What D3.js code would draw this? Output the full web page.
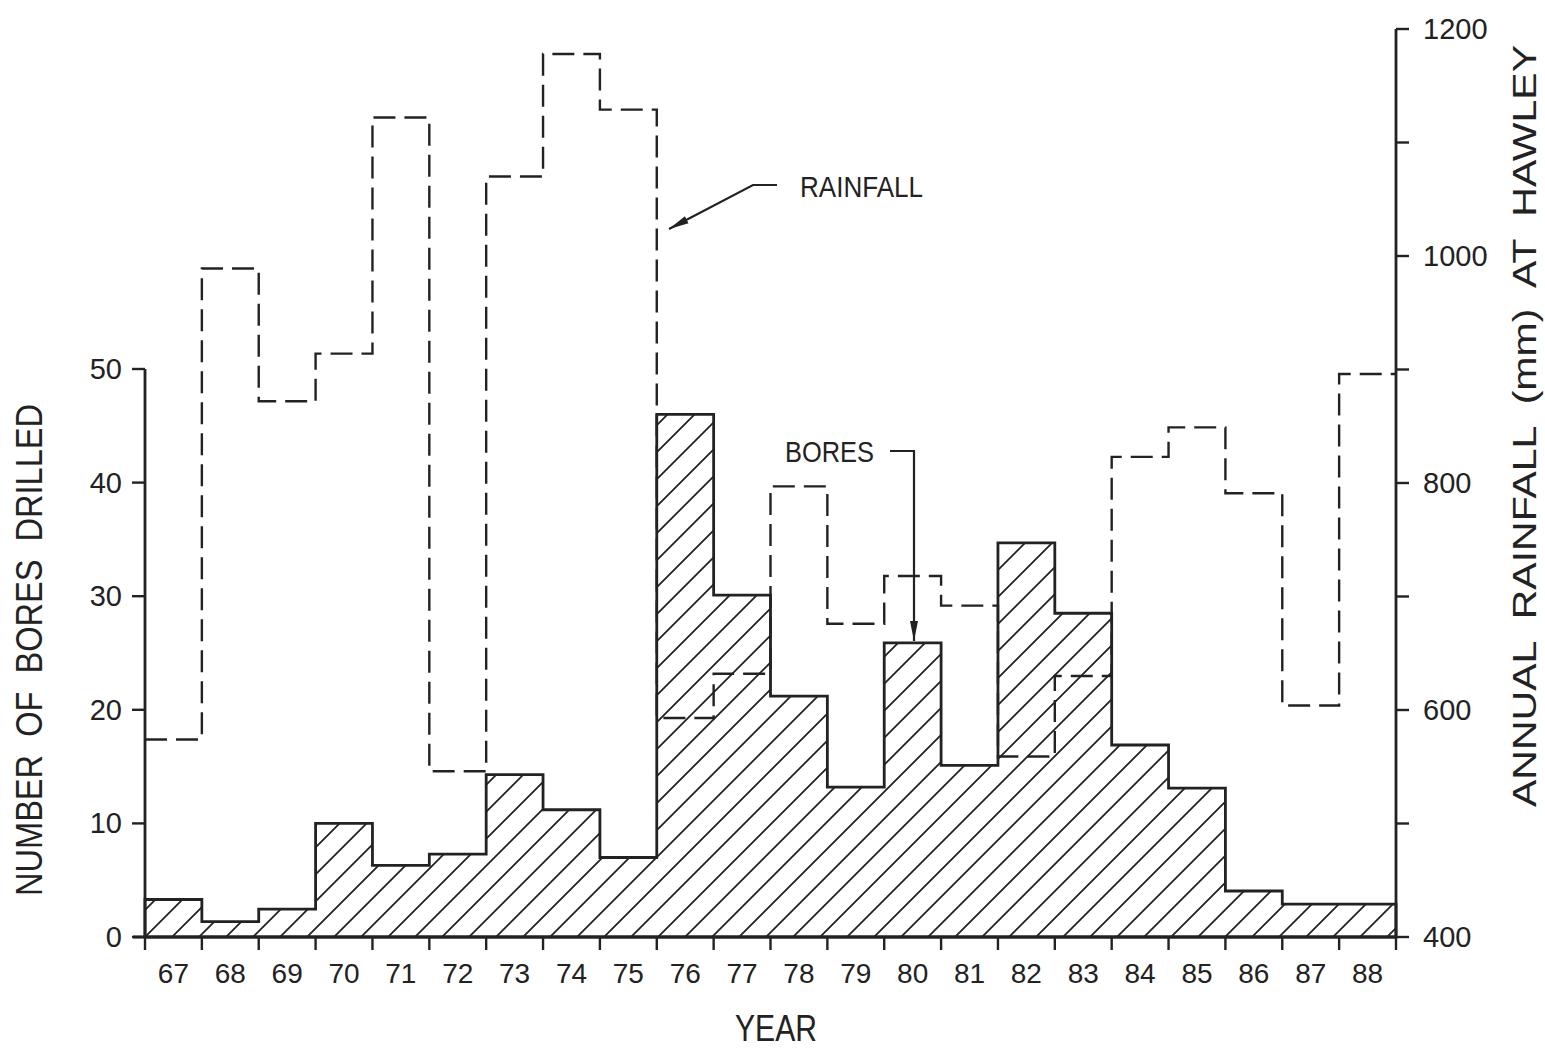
<!DOCTYPE html>
<html>
<head>
<meta charset="utf-8">
<script src="https://cdn.jsdelivr.net/npm/d3@7"></script>
<style>
  html, body { margin: 0; padding: 0; background: #fff; }
  svg { display: block; }
  text { font-family: "Liberation Sans", Arial, sans-serif; fill: #222; }
  .pre { white-space: pre; }
</style>
</head>
<body>
<svg id="chart" width="1545" height="1049"></svg>
<script>
// ---- data ----
const years = ["67","68","69","70","71","72","73","74","75","76","77","78","79","80","81","82","83","84","85","86","87","88"];
const bores = [3.3, 1.35, 2.45, 10.0, 6.3, 7.3, 14.3, 11.2, 7.0, 46.0, 30.1, 21.2, 13.2, 25.9, 15.1, 34.7, 28.5, 16.9, 13.1, 4.05, 2.9, 2.9];
const rainfall = [574, 989, 872, 914, 1122, 546, 1070, 1178, 1129, 593, 632, 797, 676, 718, 692, 559, 630, 823, 849, 791, 604, 896];
const leftTicks = [0, 10, 20, 30, 40, 50];
const rightTicks = [400, 500, 600, 700, 800, 900, 1000, 1100, 1200];
const rightTickLabels = [400, 600, 800, 1000, 1200];

const svg = d3.select("#chart");
const INK = "#222";

const x = d3.scaleBand().domain(years).range([145, 1396]).padding(0);
const yL = d3.scaleLinear().domain([0, 50]).range([937, 369]);
const yR = d3.scaleLinear().domain([400, 1200]).range([937, 29]);

// hatch pattern
const defs = svg.append("defs");
const pat = defs.append("pattern")
  .attr("id", "hatch").attr("patternUnits", "userSpaceOnUse")
  .attr("x", 145).attr("y", 937).attr("width", 27).attr("height", 27);
pat.append("path")
  .attr("d", "M0,27 L27,0 M-6,6 L6,-6 M21,33 L33,21")
  .attr("stroke", INK).attr("stroke-width", 1.8);

defs.append("marker").attr("id", "arrow")
  .attr("viewBox", "0 0 20 10").attr("refX", 20).attr("refY", 5)
  .attr("markerWidth", 20).attr("markerHeight", 10)
  .attr("markerUnits", "userSpaceOnUse").attr("orient", "auto")
  .append("path").attr("d", "M0,1 L20,5 L0,9 Z").attr("fill", INK);

// step path
function stepPts(vals, yScale) {
  const pts = [];
  vals.forEach((v, i) => {
    const x0 = x(years[i]), x1 = x0 + x.bandwidth();
    pts.push([x0, yScale(v)], [x1, yScale(v)]);
  });
  return pts;
}
const bPts = stepPts(bores, yL);
const area = [[x(years[0]), yL(0)], ...bPts, [x(years[years.length-1]) + x.bandwidth(), yL(0)]];
svg.append("path")
  .attr("d", d3.line()(area) + "Z")
  .attr("fill", "url(#hatch)")
  .attr("stroke", INK).attr("stroke-width", 2.8).attr("stroke-linejoin", "miter");

// rainfall dashed step
const rPts = stepPts(rainfall, yR);
svg.append("path")
  .attr("d", d3.line()(rPts))
  .attr("fill", "none").attr("stroke", INK).attr("stroke-width", 2.4)
  .attr("stroke-dasharray", "22,9");

// x axis
const gx = svg.append("g");
gx.append("line").attr("x1", 133).attr("x2", 1396).attr("y1", 937).attr("y2", 937)
  .attr("stroke", INK).attr("stroke-width", 2.8);
const bounds = years.map(d => x(d)).concat([1396]);
gx.selectAll(".xt").data(bounds).enter().append("line")
  .attr("x1", d => d).attr("x2", d => d).attr("y1", 937).attr("y2", 950)
  .attr("stroke", INK).attr("stroke-width", 2.4);
gx.selectAll(".xl").data(years).enter().append("text")
  .attr("x", d => x(d) + x.bandwidth() / 2).attr("y", 983)
  .attr("text-anchor", "middle").attr("font-size", 28).text(d => d);

// left axis
const gl = svg.append("g");
gl.append("line").attr("x1", 145).attr("x2", 145).attr("y1", yL(0)).attr("y2", yL(50))
  .attr("stroke", INK).attr("stroke-width", 2.8);
gl.selectAll(".lt").data(leftTicks).enter().append("line")
  .attr("x1", 132).attr("x2", 145).attr("y1", d => yL(d)).attr("y2", d => yL(d))
  .attr("stroke", INK).attr("stroke-width", 2.4);
gl.selectAll(".ll").data(leftTicks).enter().append("text")
  .attr("x", 122).attr("y", d => yL(d) + 10)
  .attr("text-anchor", "end").attr("font-size", 29).text(d => d);

// right axis
const gr = svg.append("g");
gr.append("line").attr("x1", 1396).attr("x2", 1396).attr("y1", yR(400)).attr("y2", yR(1200))
  .attr("stroke", INK).attr("stroke-width", 2.8);
gr.selectAll(".rt").data(rightTicks).enter().append("line")
  .attr("x1", 1396).attr("x2", 1409).attr("y1", d => yR(d)).attr("y2", d => yR(d))
  .attr("stroke", INK).attr("stroke-width", 2.4);
gr.selectAll(".rl").data(rightTickLabels).enter().append("text")
  .attr("x", 1423).attr("y", d => yR(d) + 10)
  .attr("text-anchor", "start").attr("font-size", 29).text(d => d);

// axis titles
svg.append("text").attr("class", "pre")
  .attr("transform", "translate(42,650) rotate(-90)")
  .attr("text-anchor", "middle").attr("font-size", 36)
  .attr("textLength", 492).attr("lengthAdjust", "spacingAndGlyphs")
  .text("NUMBER  OF  BORES  DRILLED");
svg.append("text").attr("class", "pre")
  .attr("transform", "translate(1536,426) rotate(-90)")
  .attr("text-anchor", "middle").attr("font-size", 33)
  .attr("textLength", 762).attr("lengthAdjust", "spacingAndGlyphs")
  .text("ANNUAL  RAINFALL  (mm)  AT  HAWLEY");
svg.append("text")
  .attr("x", 776).attr("y", 1041)
  .attr("text-anchor", "middle").attr("font-size", 36)
  .attr("textLength", 82).attr("lengthAdjust", "spacingAndGlyphs")
  .text("YEAR");

// annotations
svg.append("text").attr("x", 800).attr("y", 197).attr("font-size", 30)
  .attr("textLength", 123).attr("lengthAdjust", "spacingAndGlyphs").text("RAINFALL");
svg.append("path").attr("d", "M777,185 L753,185 L669,229")
  .attr("fill", "none").attr("stroke", INK).attr("stroke-width", 2.2)
  .attr("marker-end", "url(#arrow)");

svg.append("text").attr("x", 785).attr("y", 462).attr("font-size", 30)
  .attr("textLength", 89).attr("lengthAdjust", "spacingAndGlyphs").text("BORES");
svg.append("path").attr("d", "M890,451 L914,451 L914,641")
  .attr("fill", "none").attr("stroke", INK).attr("stroke-width", 2.2)
  .attr("marker-end", "url(#arrow)");
</script>
</body>
</html>
